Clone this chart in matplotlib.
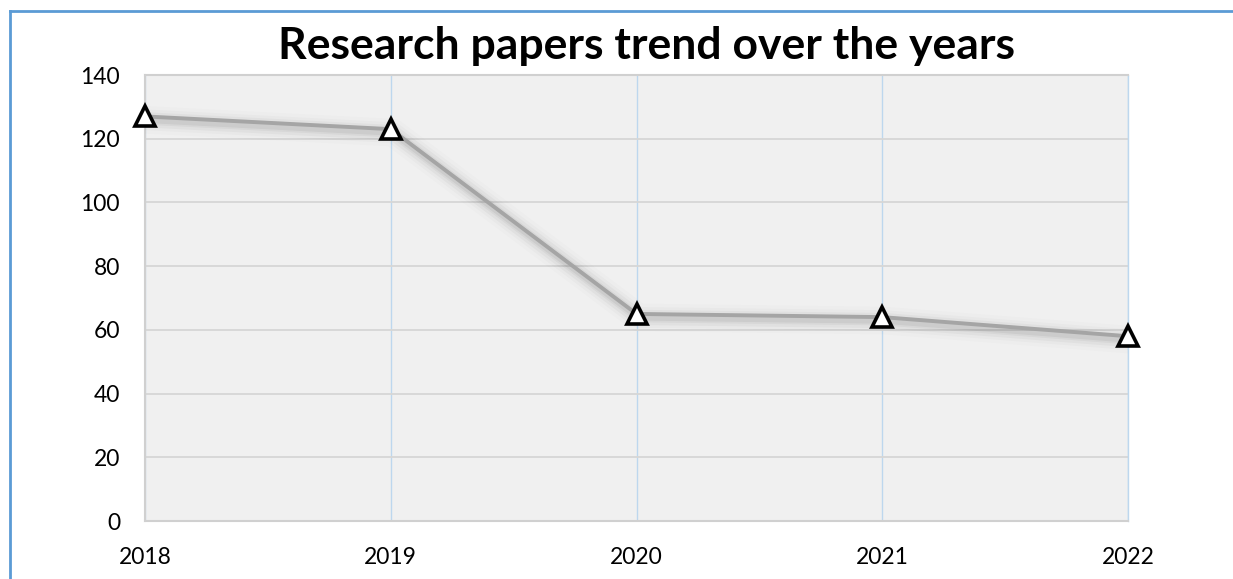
import matplotlib
matplotlib.use('Agg')
import matplotlib.pyplot as plt
import matplotlib.patheffects as pe
from matplotlib.lines import Line2D

plt.rcParams['font.family'] = ['Lato', 'DejaVu Sans']

years = [2018, 2019, 2020, 2021, 2022]
papers = [127, 123, 65, 64, 58]
y_ticks = [0, 20, 40, 60, 80, 100, 120, 140]

fig = plt.figure(figsize=(12.33, 5.79), dpi=100)
ax = fig.add_axes([145 / 1233, 58 / 579, 983 / 1233, 446 / 579])
ax.set_facecolor('#F0F0F0')

# soft blurred shadow under the series
shadow = [pe.Stroke(linewidth=w, foreground='black', alpha=a, offset=(1.5, -2.5))
          for w, a in [(20, 0.012), (15, 0.02), (11, 0.03), (7, 0.04), (4.5, 0.05)]]
ax.plot(years, papers, color='#A5A5A5', linewidth=2.8, zorder=3,
        path_effects=shadow + [pe.Normal()])
ax.plot(years, papers, linestyle='none', marker='^', markersize=15,
        markerfacecolor='white', markeredgecolor='black', markeredgewidth=2.6,
        zorder=4, clip_on=False)

ax.set_xlim(years[0], years[-1])
ax.set_ylim(y_ticks[0], y_ticks[-1])
ax.set_yticks(y_ticks)
ax.set_xticks(years)
ax.set_xticklabels([str(y) for y in years])

ax.grid(axis='y', color='#D6D6D6', linewidth=1.3)
ax.grid(axis='x', color='#BDD7EE', linewidth=1.0)
ax.set_axisbelow(True)
for side in ['left', 'bottom', 'top']:
    ax.spines[side].set_color('#D0D0D0')
    ax.spines[side].set_linewidth(1.5)
ax.spines['right'].set_color('#BDD7EE')
ax.spines['right'].set_linewidth(1.0)

ax.tick_params(axis='both', length=0, labelsize=16.5, colors='black')
ax.tick_params(axis='y', pad=18)
ax.tick_params(axis='x', pad=19)

fig.text(647 / 1233, 1 - 59 / 579, 'Research papers trend over the years',
         ha='center', va='baseline', fontsize=32, fontweight='bold')

# outer chart frame (top and left edges)
fig.add_artist(Line2D([10 / 1233, 1.0], [1 - 11 / 579, 1 - 11 / 579],
                      color='#5B9BD5', linewidth=2.0, transform=fig.transFigure))
fig.add_artist(Line2D([10 / 1233, 10 / 1233], [0.0, 1 - 11 / 579],
                      color='#5B9BD5', linewidth=2.0, transform=fig.transFigure))

fig.savefig('out.png', dpi=100)
